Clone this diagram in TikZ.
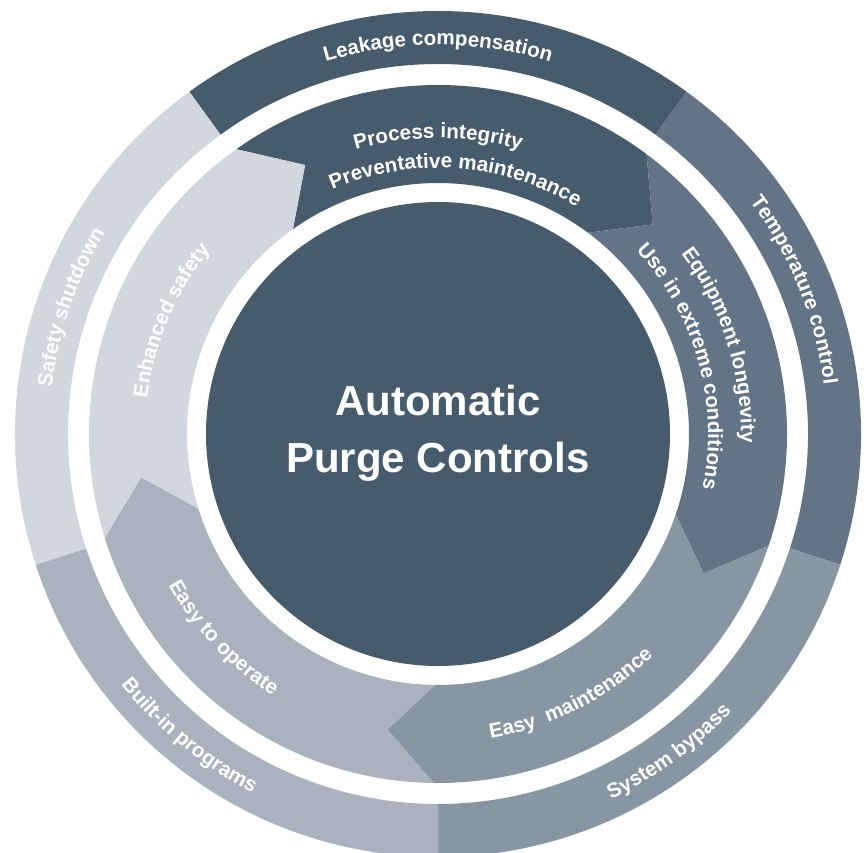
\documentclass[tikz,border=0pt]{standalone}
\usepackage{fontspec}
\setmainfont{Liberation Sans}
\usetikzlibrary{decorations.text}
\definecolor{cA}{RGB}{70,91,108}
\definecolor{cB}{RGB}{99,116,135}
\definecolor{cC}{RGB}{136,149,162}
\definecolor{cD}{RGB}{170,178,189}
\definecolor{cE}{RGB}{210,215,222}
\newcommand\ringfont{\bfseries\fontsize{20.6}{24}\selectfont}
\newcommand\cwlabel[3]{%
  \path[decorate,decoration={text along path,text align=center,text color=white,text={|\ringfont|#3}}]
    (#1+45:#2) arc[start angle=#1+45,end angle=#1-45,radius=#2];}
\newcommand\ccwlabel[3]{%
  \path[decorate,decoration={text along path,text align=center,text color=white,text={|\ringfont|#3}}]
    (#1-45:#2) arc[start angle=#1-45,end angle=#1+45,radius=#2];}
\begin{document}
\begin{tikzpicture}[x=1pt,y=1pt]
\useasboundingbox (-438,-419) rectangle (429,434);
\clip (-438,-419) rectangle (429,434);
\fill[white] (-438,-419) rectangle (429,434);
% outer ring
\foreach \a/\c in {126/cA,54/cB,-18/cC,-90/cD,-162/cE}{
  \fill[\c] (\a:423) arc[start angle=\a,end angle=\a-72,radius=423]
    -- (\a-72:370) arc[start angle=\a-72,end angle=\a,radius=370] -- cycle;}
% inner chevrons
\foreach \a/\c in {125.3/cA,53.3/cB,-18.7/cC,-90.7/cD,-162.7/cE}{
  \fill[\c] (\a:349) arc[start angle=\a,end angle=\a-72,radius=349]
    -- (\a-81:300) -- (\a-72:251) arc[start angle=\a-72,end angle=\a,radius=251]
    -- (\a-9:300) -- cycle;}
% centre
\fill[cA] (0,0) circle[radius=232];
\node[name=title,text=white,font=\bfseries\fontsize{42}{57}\selectfont,align=center] at (0,1) {Automatic\\Purge Controls};
% outer labels
\cwlabel{90}{389}{Leakage compensation}
\cwlabel{22}{389}{Temperature control}
\ccwlabel{-54}{404}{System bypass}
\ccwlabel{230.5}{404}{Built-in programs}
\cwlabel{161}{389}{Safety shutdown}
% inner labels
\cwlabel{90}{296}{Process integrity}
\cwlabel{86}{266}{Preventative maintenance}
\cwlabel{17.5}{303}{Equipment longevity}
\cwlabel{15.6}{270}{Use in extreme conditions}
\ccwlabel{-63}{309}{Easy {\ }maintenance}
\ccwlabel{223.5}{309}{Easy to operate}
\cwlabel{157}{293}{Enhanced safety}
\end{tikzpicture}
\end{document}
